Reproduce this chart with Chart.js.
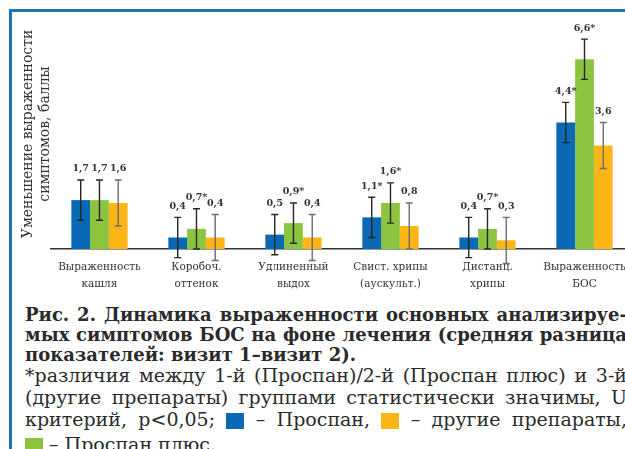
<!DOCTYPE html>
<html lang="ru">
<head>
<meta charset="utf-8">
<script src="https://cdn.jsdelivr.net/npm/chart.js@4.4.1/dist/chart.umd.min.js"></script>
<style>
  html, body { margin: 0; padding: 0; background: #fff; width: 625px; height: 449px; overflow: hidden; }
  #frame { position: absolute; left: 9px; top: 9px; width: 700px; height: 500px;
           border-left: 3px solid #1c73b9; border-top: 3px solid #1c73b9; }
  #wrap { position: absolute; left: 0; top: 0; width: 640px; height: 304px; }
  .cap { position: absolute; left: 25px; width: 602px; font-family: "DejaVu Serif", serif; color: #2a2a2a; }
  .cap div { overflow: hidden; white-space: normal; }
  .j { text-align: justify; text-align-last: justify; }
  #capBold { top: 304.8px; font-weight: bold; font-size: 18px; line-height: 20px; }
  #capBold div { height: 20px; }
  #capNote { top: 365.4px; font-size: 19px; line-height: 21.7px; }
  #capNote div { height: 21.7px; }
  #capNote div.last { margin-top: 4px; }
  .key { display: inline-block; width: 18px; height: 16px; vertical-align: -3px; }
</style>
</head>
<body>
<div id="frame"></div>
<div id="wrap"><canvas id="chart" width="640" height="304"></canvas></div>

<div class="cap" id="capBold">
  <div class="j">Рис. 2. Динамика выраженности основных анализируе-</div>
  <div class="j">мых симптомов БОС на фоне лечения (средняя разница</div>
  <div>показателей: визит 1–визит 2).</div>
</div>
<div class="cap" id="capNote">
  <div class="j">*различия между 1-й (Проспан)/2-й (Проспан плюс) и 3-й</div>
  <div class="j">(другие препараты) группами статистически значимы, U</div>
  <div class="j">критерий, p&lt;0,05; <span class="key" id="keyBlue"></span> – Проспан, <span class="key" id="keyYellow"></span> – другие препараты,</div>
  <div class="last"><span class="key" id="keyGreen"></span> – Проспан плюс.</div>
</div>

<script>
// Symptom categories (two-line axis labels)
const categories = [
  ["Выраженность", "кашля"],
  ["Коробоч.", "оттенок"],
  ["Удлиненный", "выдох"],
  ["Свист. хрипы", "(аускульт.)"],
  ["Дистанц.", "хрипы"],
  ["Выраженность", "БОС"]
];

// Mean decrease of symptom score, visit 1 – visit 2
const prospan     = [1.7, 0.4, 0.5, 1.1, 0.4, 4.4];
const prospanPlus = [1.7, 0.7, 0.9, 1.6, 0.7, 6.6];
const otherDrugs  = [1.6, 0.4, 0.4, 0.8, 0.3, 3.6];

// Error bar half-widths
const prospanErr     = [0.7, 0.7, 0.7, 0.7, 0.7, 0.7];
const prospanPlusErr = [0.7, 0.7, 0.7, 0.7, 0.7, 0.7];
const otherDrugsErr  = [0.8, 0.8, 0.8, 0.8, 0.8, 0.8];

// Statistically significant differences (marked with *)
const prospanSig     = [false, false, false, true, false, true];
const prospanPlusSig = [false, true, true, true, true, true];
const otherDrugsSig  = [false, false, false, false, false, false];

const COLORS = { blue: "#0a69b4", green: "#8cc43f", yellow: "#fdb515" };
document.getElementById("keyBlue").style.background = COLORS.blue;
document.getElementById("keyGreen").style.background = COLORS.green;
document.getElementById("keyYellow").style.background = COLORS.yellow;

const SERIF = "'DejaVu Serif', serif";

// Error bars and value labels drawn on top of the bars
const errorBarsPlugin = {
  id: "errorBars",
  afterDatasetsDraw(chart) {
    const ctx = chart.ctx;
    const y = chart.scales.y;
    chart.data.datasets.forEach((ds, i) => {
      const meta = chart.getDatasetMeta(i);
      meta.data.forEach((bar, j) => {
        const v = ds.data[j];
        const e = ds.errors[j];
        const top = y.getPixelForValue(v + e);
        const bot = y.getPixelForValue(v - e);
        const x = bar.x;
        ctx.save();
        ctx.strokeStyle = ds.errorColor;
        ctx.lineWidth = 1.4;
        ctx.beginPath();
        ctx.moveTo(x, top); ctx.lineTo(x, bot);
        ctx.moveTo(x - 3.5, top); ctx.lineTo(x + 3.5, top);
        ctx.moveTo(x - 3.5, bot); ctx.lineTo(x + 3.5, bot);
        ctx.stroke();
        const label = v.toFixed(1).replace(".", ",") + (ds.significant[j] ? "*" : "");
        ctx.fillStyle = "#333";
        ctx.font = "bold 9.5px " + SERIF;
        ctx.textAlign = "center";
        ctx.textBaseline = "middle";
        ctx.fillText(label, x, top - 11);
        ctx.restore();
      });
    });
  }
};

new Chart(document.getElementById("chart"), {
  type: "bar",
  data: {
    labels: categories,
    datasets: [
      { label: "Проспан", data: prospan, errors: prospanErr, significant: prospanSig,
        backgroundColor: COLORS.blue, errorColor: "#262626" },
      { label: "Проспан плюс", data: prospanPlus, errors: prospanPlusErr, significant: prospanPlusSig,
        backgroundColor: COLORS.green, errorColor: "#262626" },
      { label: "другие препараты", data: otherDrugs, errors: otherDrugsErr, significant: otherDrugsSig,
        backgroundColor: COLORS.yellow, errorColor: "#6e6e6e" }
    ]
  },
  options: {
    responsive: false,
    animation: false,
    events: [],
    layout: { padding: { left: 9, right: 7, top: 19, bottom: 1 } },
    datasets: { bar: { categoryPercentage: 0.58, barPercentage: 1.0 } },
    plugins: { legend: { display: false }, tooltip: { enabled: false } },
    scales: {
      x: {
        grid: { display: false, drawTicks: false },
        border: { display: true, color: "#333", width: 1.5 },
        ticks: {
          autoSkip: false, maxRotation: 0, padding: 10, color: "#333",
          font: { family: SERIF, size: 10.5, lineHeight: 1.62 }
        }
      },
      y: {
        min: 0, max: 8,
        grid: { display: false, drawTicks: false },
        border: { display: false },
        ticks: { display: false },
        title: {
          display: true,
          text: ["Уменьшение выраженности", "симптомов, баллы"],
          color: "#333",
          font: { family: SERIF, size: 14, lineHeight: 1.22 },
          padding: { top: 11, bottom: -3.2 }
        }
      }
    }
  },
  plugins: [errorBarsPlugin]
});
</script>
</body>
</html>
